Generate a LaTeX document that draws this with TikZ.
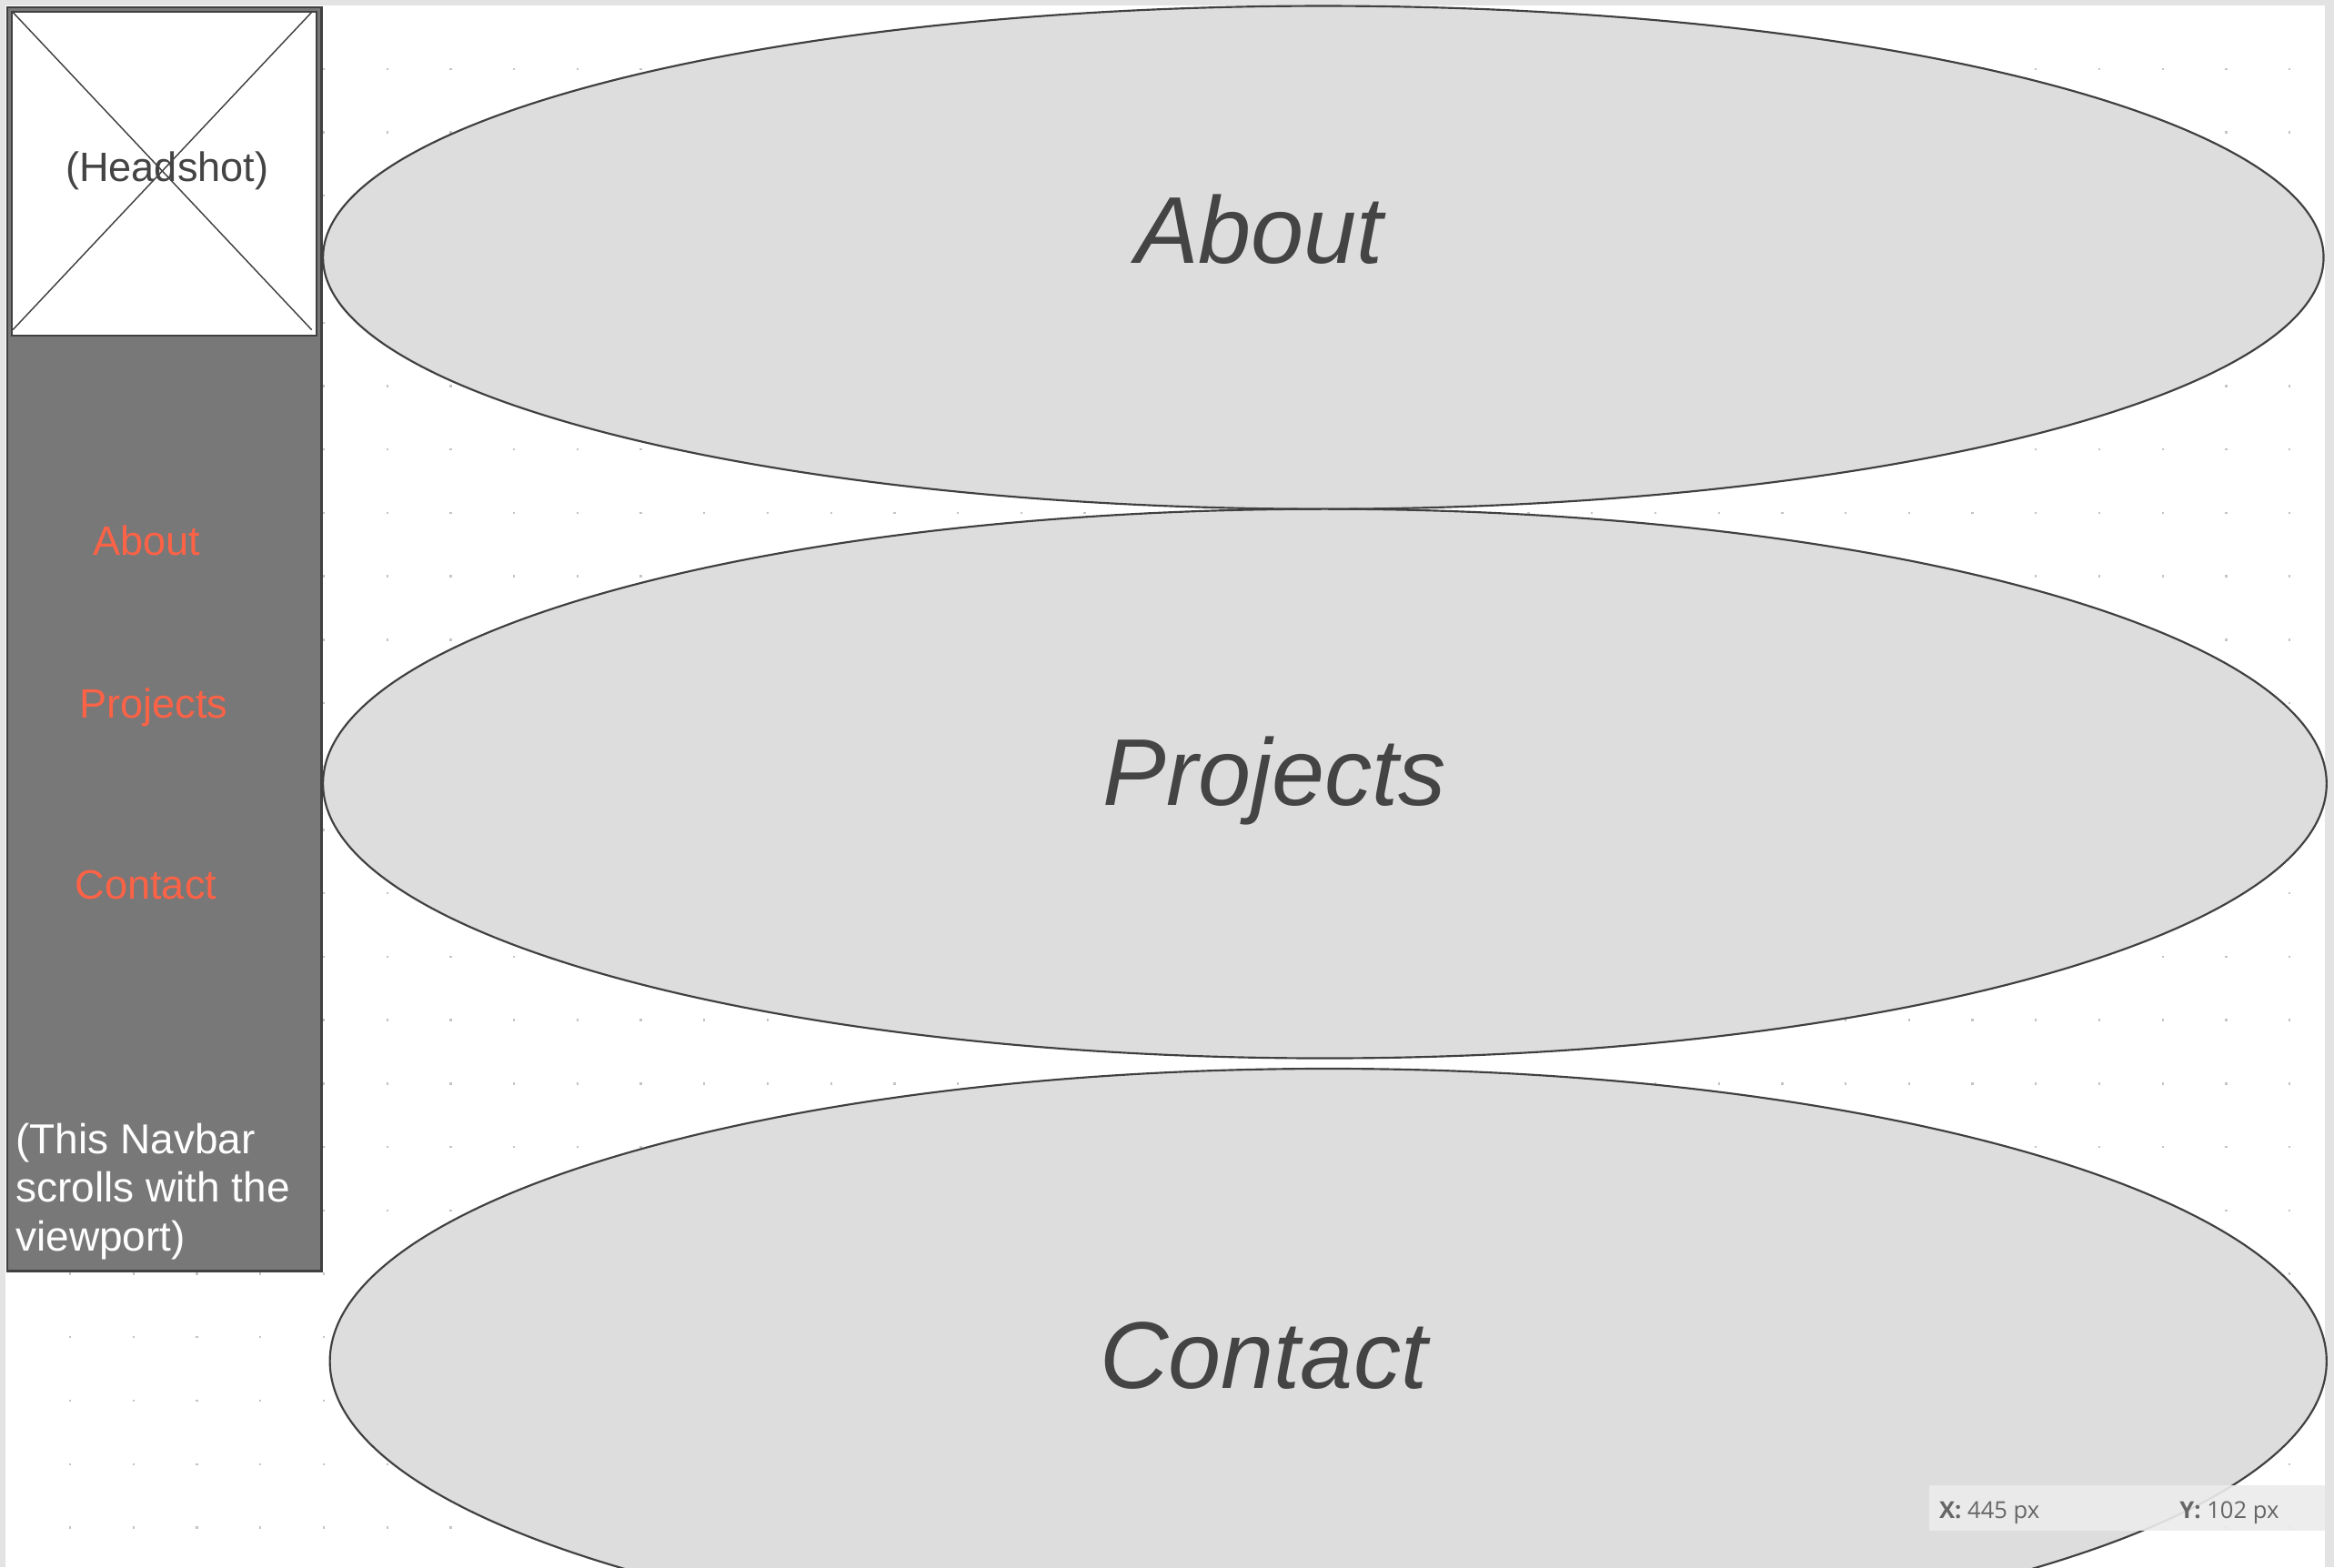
\documentclass[tikz,border=0pt]{standalone}
\usepackage{fontspec}
\setmainfont{Liberation Sans}
\newfontfamily\uifont{Open Sans}
\definecolor{navgray}{HTML}{787878}
\definecolor{edgegray}{HTML}{404040}
\definecolor{secfill}{HTML}{DDDDDD}
\definecolor{inkgray}{HTML}{444444}
\definecolor{linkred}{RGB}{252,98,70}
\definecolor{dotgray}{HTML}{C4C4C4}
\definecolor{paneedge}{HTML}{E3E3E3}
\definecolor{posfill}{HTML}{ECECEC}
\definecolor{postext}{HTML}{666666}

\begin{document}
\begin{tikzpicture}[x=0.02cm,y=-0.02cm,
  secshape/.style={fill=secfill,draw=edgegray,line width=0.75pt},
  sectitle/.style={text=inkgray,font=\fontsize{36.3}{42}\selectfont\itshape,anchor=base,inner sep=0pt},
  navlink/.style={text=linkred,font=\fontsize{15.7}{18}\selectfont,anchor=base,inner sep=0pt},
  navnote/.style={text=white,font=\fontsize{16}{18.6}\selectfont,align=left,anchor=base west,inner sep=0pt},
  postext/.style={text=postext,font=\uifont\fontsize{8.9}{10}\selectfont,anchor=base west,inner sep=0pt},
  griddot/.style={fill=dotgray}]
%canvas
\useasboundingbox (0,0) rectangle (1568,1053);
\clip (0,0) rectangle (1568,1053);
\fill[white] (0,0) rectangle (1568,1053);
\fill[paneedge] (0,0) rectangle (1568,3.6);
\fill[paneedge] (0,0) rectangle (3.6,1053);
\fill[paneedge] (1562,0) rectangle (1568,1053);
%grid
\foreach \i in {0,...,35}
  \foreach \j in {0,...,23}
    \fill[griddot] ({46.4+42.6*\i},{45.7+42.6*\j}) rectangle ++(1.4,1.4);

%navbar
\filldraw[fill=navgray,draw=edgegray,line width=0.85pt] (4.8,4.8) rectangle (216,854);
%headshot
\filldraw[fill=white,draw=edgegray,line width=0.75pt] (7.8,7.8) rectangle (212.7,225.7);
\draw[edgegray,line width=0.5pt] (8.6,8.2) -- (209.4,221.6);
\draw[edgegray,line width=0.5pt] (209.4,8.2) -- (8.6,221.6);
\node[navlink,text=inkgray] (hshot) at (112.3,122.2) {(Headshot)};
%links
\node[navlink] (navAbout) at (98.4,372.8) {About};
\node[navlink] (navProjects) at (103.2,482.3) {Projects};
\node[navlink] (navContact) at (98,603.9) {Contact};
%note (base is the last line)
\node[navnote] (navNote) at (10.2,840.5) {(This Navbar\\scrolls with the\\viewport)};

%sections
\filldraw[secshape] (889,173) ellipse (672 and 169);
\node[sectitle] (secAbout) at (846,177.2) {About};
\filldraw[secshape] (890,526.5) ellipse (673 and 184.5);
\node[sectitle] (secProjects) at (856.4,541.4) {Projects};
\filldraw[secshape] (892.3,914.6) ellipse (670.7 and 196.6);
\node[sectitle] (secContact) at (849,933) {Contact};

%cursor position
\fill[posfill,opacity=0.9] (1296,998) rectangle (1562,1028.4);
\node[postext] (posX) at (1302.5,1020) {\textbf{X:} 445 px};
\node[postext] (posY) at (1464,1020) {\textbf{Y:} 102 px};
\end{tikzpicture}
\end{document}
